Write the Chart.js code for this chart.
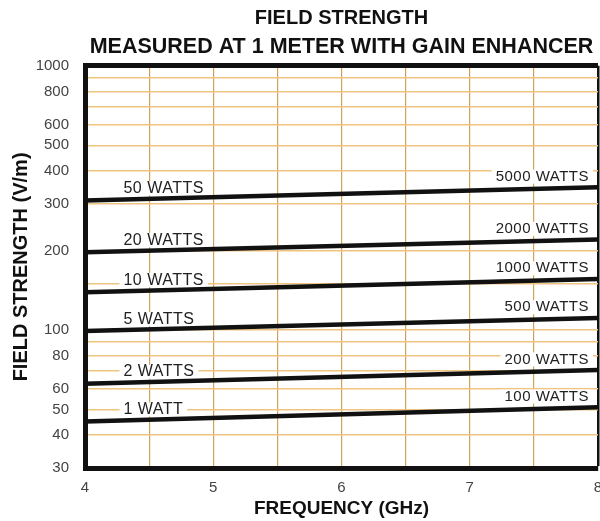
<!DOCTYPE html>
<html>
<head>
<meta charset="utf-8">
<script src="https://cdn.jsdelivr.net/npm/chart.js@4/dist/chart.umd.min.js"></script>
<style>
	body { margin: 0; background: #fff; }
</style>
</head>
<body>
<canvas id="grafico" width="600" height="521"></canvas>
<script>
const FREQ = [4, 8]
const W50 = [309, 347]
const W20 = [197, 220]
const W10 = [139, 156]
const W5 = [99, 111]
const W2 = [62.5, 70.5]
const W1 = [45, 51]

const ROTULO_ESQ = ["50 WATTS", "20 WATTS", "10 WATTS", "5 WATTS", "2 WATTS", "1 WATT"]
const ROTULO_DIR = ["5000 WATTS", "2000 WATTS", "1000 WATTS", "500 WATTS", "200 WATTS", "100 WATTS"]

const Y_TICKS = [30, 40, 50, 60, 80, 100, 200, 300, 400, 500, 600, 800, 1000]
const X_TICKS = [4, 5, 6, 7, 8]

var series = [W50, W20, W10, W5, W2, W1]
var fonte = "'Liberation Sans', Arial, sans-serif"

// rotulos com fundo branco em cima de cada reta
var rotulos = {
	id: "rotulos",
	beforeDatasetsDraw(chart) {
		const ctx = chart.ctx
		const sx = chart.scales.x
		const sy = chart.scales.y
		ctx.save()
		ctx.letterSpacing = "0.5px"
		ctx.textBaseline = "middle"
		ctx.textAlign = "left"

		series.forEach((s, i) => {
			let x0 = sx.getPixelForValue(FREQ[0])
			let x1 = sx.getPixelForValue(FREQ[FREQ.length - 1])
			let y0 = sy.getPixelForValue(s[0])
			let y1 = sy.getPixelForValue(s[s.length - 1])
			let naLinha = (px) => y0 + ((y1 - y0) * (px - x0)) / (x1 - x0)

			// esquerda
			ctx.font = "16px " + fonte
			let txt = ROTULO_ESQ[i]
			let w = ctx.measureText(txt).width
			let lx = sx.getPixelForValue(4.3)
			let ly = naLinha(lx + w / 2) - 10
			ctx.fillStyle = "#fff"
			ctx.fillRect(lx - 4, ly - 7, w + 8, 14)
			ctx.fillStyle = "#222"
			ctx.fillText(txt, lx, ly)

			// direita
			ctx.font = "15px " + fonte
			txt = ROTULO_DIR[i]
			w = ctx.measureText(txt).width
			let rx = sx.getPixelForValue(7.93) - w
			let ry = naLinha(rx + w / 2) - 12
			ctx.fillStyle = "#fff"
			ctx.fillRect(rx - 4, ry - 7, w + 8, 14)
			ctx.fillStyle = "#222"
			ctx.fillText(txt, rx, ry)
		})
		ctx.restore()
	},
}

var datasets = series.map((s, i) => ({
	label: ROTULO_ESQ[i],
	data: s.map((v, j) => ({ x: FREQ[j], y: v })),
	borderColor: "#111",
	borderWidth: 4.5,
	pointRadius: 0,
	fill: false,
	tension: 0,
}))

var grafico = new Chart(document.getElementById("grafico"), {
	type: "line",
	data: { datasets: datasets },
	plugins: [rotulos],
	options: {
		responsive: false,
		animation: false,
		devicePixelRatio: 1,
		layout: { padding: { left: 0, right: 2, top: 0, bottom: 0 } },
		plugins: {
			legend: { display: false },
			tooltip: { enabled: false },
			title: {
				display: true,
				text: "FIELD STRENGTH",
				fullSize: false,
				color: "#111",
				font: { family: fonte, size: 20, weight: "bold" },
				padding: { top: 6, bottom: 4 },
			},
			subtitle: {
				display: true,
				text: "MEASURED AT 1 METER WITH GAIN ENHANCER",
				fullSize: false,
				color: "#111",
				font: { family: fonte, size: 21.5, weight: "bold" },
				padding: { top: 0, bottom: 6 },
			},
		},
		scales: {
			x: {
				type: "linear",
				min: 4,
				max: 8,
				afterFit(scale) {
					scale.height = 53
					scale.paddingLeft = 0
					scale.paddingRight = 0
				},
				ticks: {
					stepSize: 0.5,
					autoSkip: false,
					maxRotation: 0,
					padding: 11,
					color: "#444",
					font: { family: fonte, size: 15 },
					callback: (v) => (X_TICKS.includes(v) ? String(v) : ""),
				},
				grid: {
					drawTicks: false,
					color: (c) => (c.tick && c.tick.value == 8 ? "#111" : "#cfa458"),
					lineWidth: (c) => (c.tick && c.tick.value == 8 ? 2.5 : 1.2),
				},
				border: { display: true, color: "#111", width: 5 },
				title: {
					display: true,
					text: "FREQUENCY (GHz)",
					color: "#111",
					font: { family: fonte, size: 19, weight: "bold" },
					padding: { top: 0, bottom: 1 },
				},
			},
			y: {
				type: "logarithmic",
				min: 30,
				max: 1000,
				afterFit(scale) {
					scale.width = 85
				},
				ticks: {
					autoSkip: false,
					padding: 16,
					color: "#444",
					font: { family: fonte, size: 15 },
					callback: (v) => (Y_TICKS.includes(v) ? String(v) : ""),
				},
				grid: {
					drawTicks: false,
					color: (c) => (c.tick && c.tick.value == 1000 ? "#111" : "#efc47e"),
					lineWidth: (c) => (c.tick && c.tick.value == 1000 ? 5 : 1.5),
				},
				border: { display: true, color: "#111", width: 5 },
				title: {
					display: true,
					text: "FIELD STRENGTH (V/m)",
					color: "#111",
					font: { family: fonte, size: 20, weight: "bold" },
					padding: { top: 9, bottom: 0 },
				},
			},
		},
	},
})
</script>
</body>
</html>
